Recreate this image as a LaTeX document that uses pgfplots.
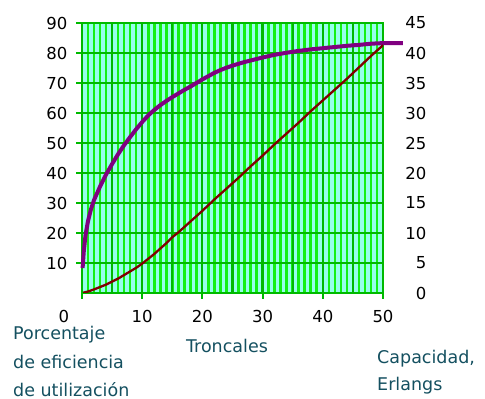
\documentclass[border=0pt]{standalone}
\usepackage{pgfplots}
\pgfplotsset{compat=1.18}
\usepackage{fontspec}
\setmainfont{DejaVu Sans}
\definecolor{bgc}{RGB}{150,255,235}
\definecolor{brightg}{RGB}{20,240,20}
\definecolor{darkg}{RGB}{0,185,0}
\definecolor{purp}{RGB}{128,0,128}
\definecolor{dred}{RGB}{128,0,0}
\definecolor{txt}{RGB}{20,80,96}
\begin{document}
\begin{tikzpicture}
\path[use as bounding box] (0,0) rectangle (485bp,399bp);
\begin{axis}[
  at={(82bp,106bp)}, anchor=south west,
  scale only axis, width=301bp, height=270bp,
  xmin=0, xmax=50, ymin=0, ymax=90,
  axis background/.style={fill=bgc},
  xtick={0,10,...,50},
  xticklabels={\llap{0\kern13bp},10,20,30,40,50},
  minor x tick num=9,
  extra x ticks={5,15,25,35,45},
  extra x tick labels={},
  extra x tick style={grid=major, major tick length=0pt},
  ytick={10,20,...,90},
  xmajorgrids, xminorgrids, ymajorgrids,
  major grid style={darkg, line width=2.2bp},
  minor grid style={brightg, line width=2.6bp},
  axis line style={darkg, line width=2.2bp},
  tick style={darkg, line width=2bp},
  tick align=outside, major tick length=6bp, minor tick length=0pt,
  xtick pos=bottom, ytick pos=left,
  ticklabel style={font=\fontsize{16.5bp}{20bp}\selectfont, text=black},
  xticklabel style={yshift=-8bp},
  yticklabel style={xshift=-5bp},
  /pgf/number format/assume math mode=true,
  clip=false,
]
\addplot[purp, line width=4bp, line join=round] coordinates {
(0.1,8.3) (0.3,14) (0.6,19.5) (1,24) (1.5,28) (2,31) (3,35.5) (4,39.5) (5,43)
(6,46.3) (7,49.3) (8,52) (9,54.6) (10,57) (11,59.2) (12,61) (13,62.6) (14,64)
(15,65.3) (16,66.5) (17,67.7) (18,68.8) (19,70) (20,71.2) (21,72.3) (22,73.4)
(23,74.3) (24,75.1) (25,75.8) (26,76.4) (27,77) (28,77.5) (29,78) (30,78.5)
(32,79.4) (34,80.1) (36,80.7) (38,81.2) (40,81.6) (42,82) (44,82.4) (46,82.7)
(48,83.1) (50,83.3) (53.3,83.3)
};
\end{axis}
\begin{axis}[
  at={(82bp,106bp)}, anchor=south west,
  scale only axis, width=301bp, height=270bp,
  xmin=0, xmax=50, ymin=0, ymax=45,
  axis x line=none, axis y line*=right,
  axis line style={draw=none},
  ytick={0,5,...,45},
  major tick length=0pt,
  yticklabel style={anchor=east, xshift=47bp},
  ticklabel style={font=\fontsize{16.5bp}{20bp}\selectfont, text=black},
  /pgf/number format/assume math mode=true,
]
\addplot[dred, line width=2.3bp, line join=round] coordinates {
(0.2,0.05) (1,0.25) (2,0.6) (3,1.0) (4,1.4) (5,1.9) (6,2.4) (7,3.0) (8,3.6)
(9,4.2) (10,4.9) (11,5.7) (12,6.5) (13,7.4) (14,8.3) (15,9.3) (16,10.1) (17,11)
(18,11.9) (19,12.8) (20,13.7) (22,15.6) (24,17.4) (26,19.2) (28,21.1) (30,22.9)
(32,24.8) (34,26.6) (36,28.4) (38,30.3) (40,32.1) (42,33.9) (44,35.7) (46,37.6)
(48,39.5) (50,41.3)
};
\end{axis}
\begin{scope}[every node/.style={text=txt, font=\fontsize{17.5bp}{20bp}\selectfont, inner sep=0pt}]
\node[anchor=base west] at (13bp,59bp) {Porcentaje};
\node[anchor=base west] at (13bp,31bp) {de eficiencia};
\node[anchor=base west] at (13bp,3bp) {de utilización};
\node[anchor=base] at (227bp,46bp) {Troncales};
\node[anchor=base west] at (377bp,36bp) {Capacidad,};
\node[anchor=base west] at (377bp,9bp) {Erlangs};
\end{scope}
\end{tikzpicture}
\end{document}
